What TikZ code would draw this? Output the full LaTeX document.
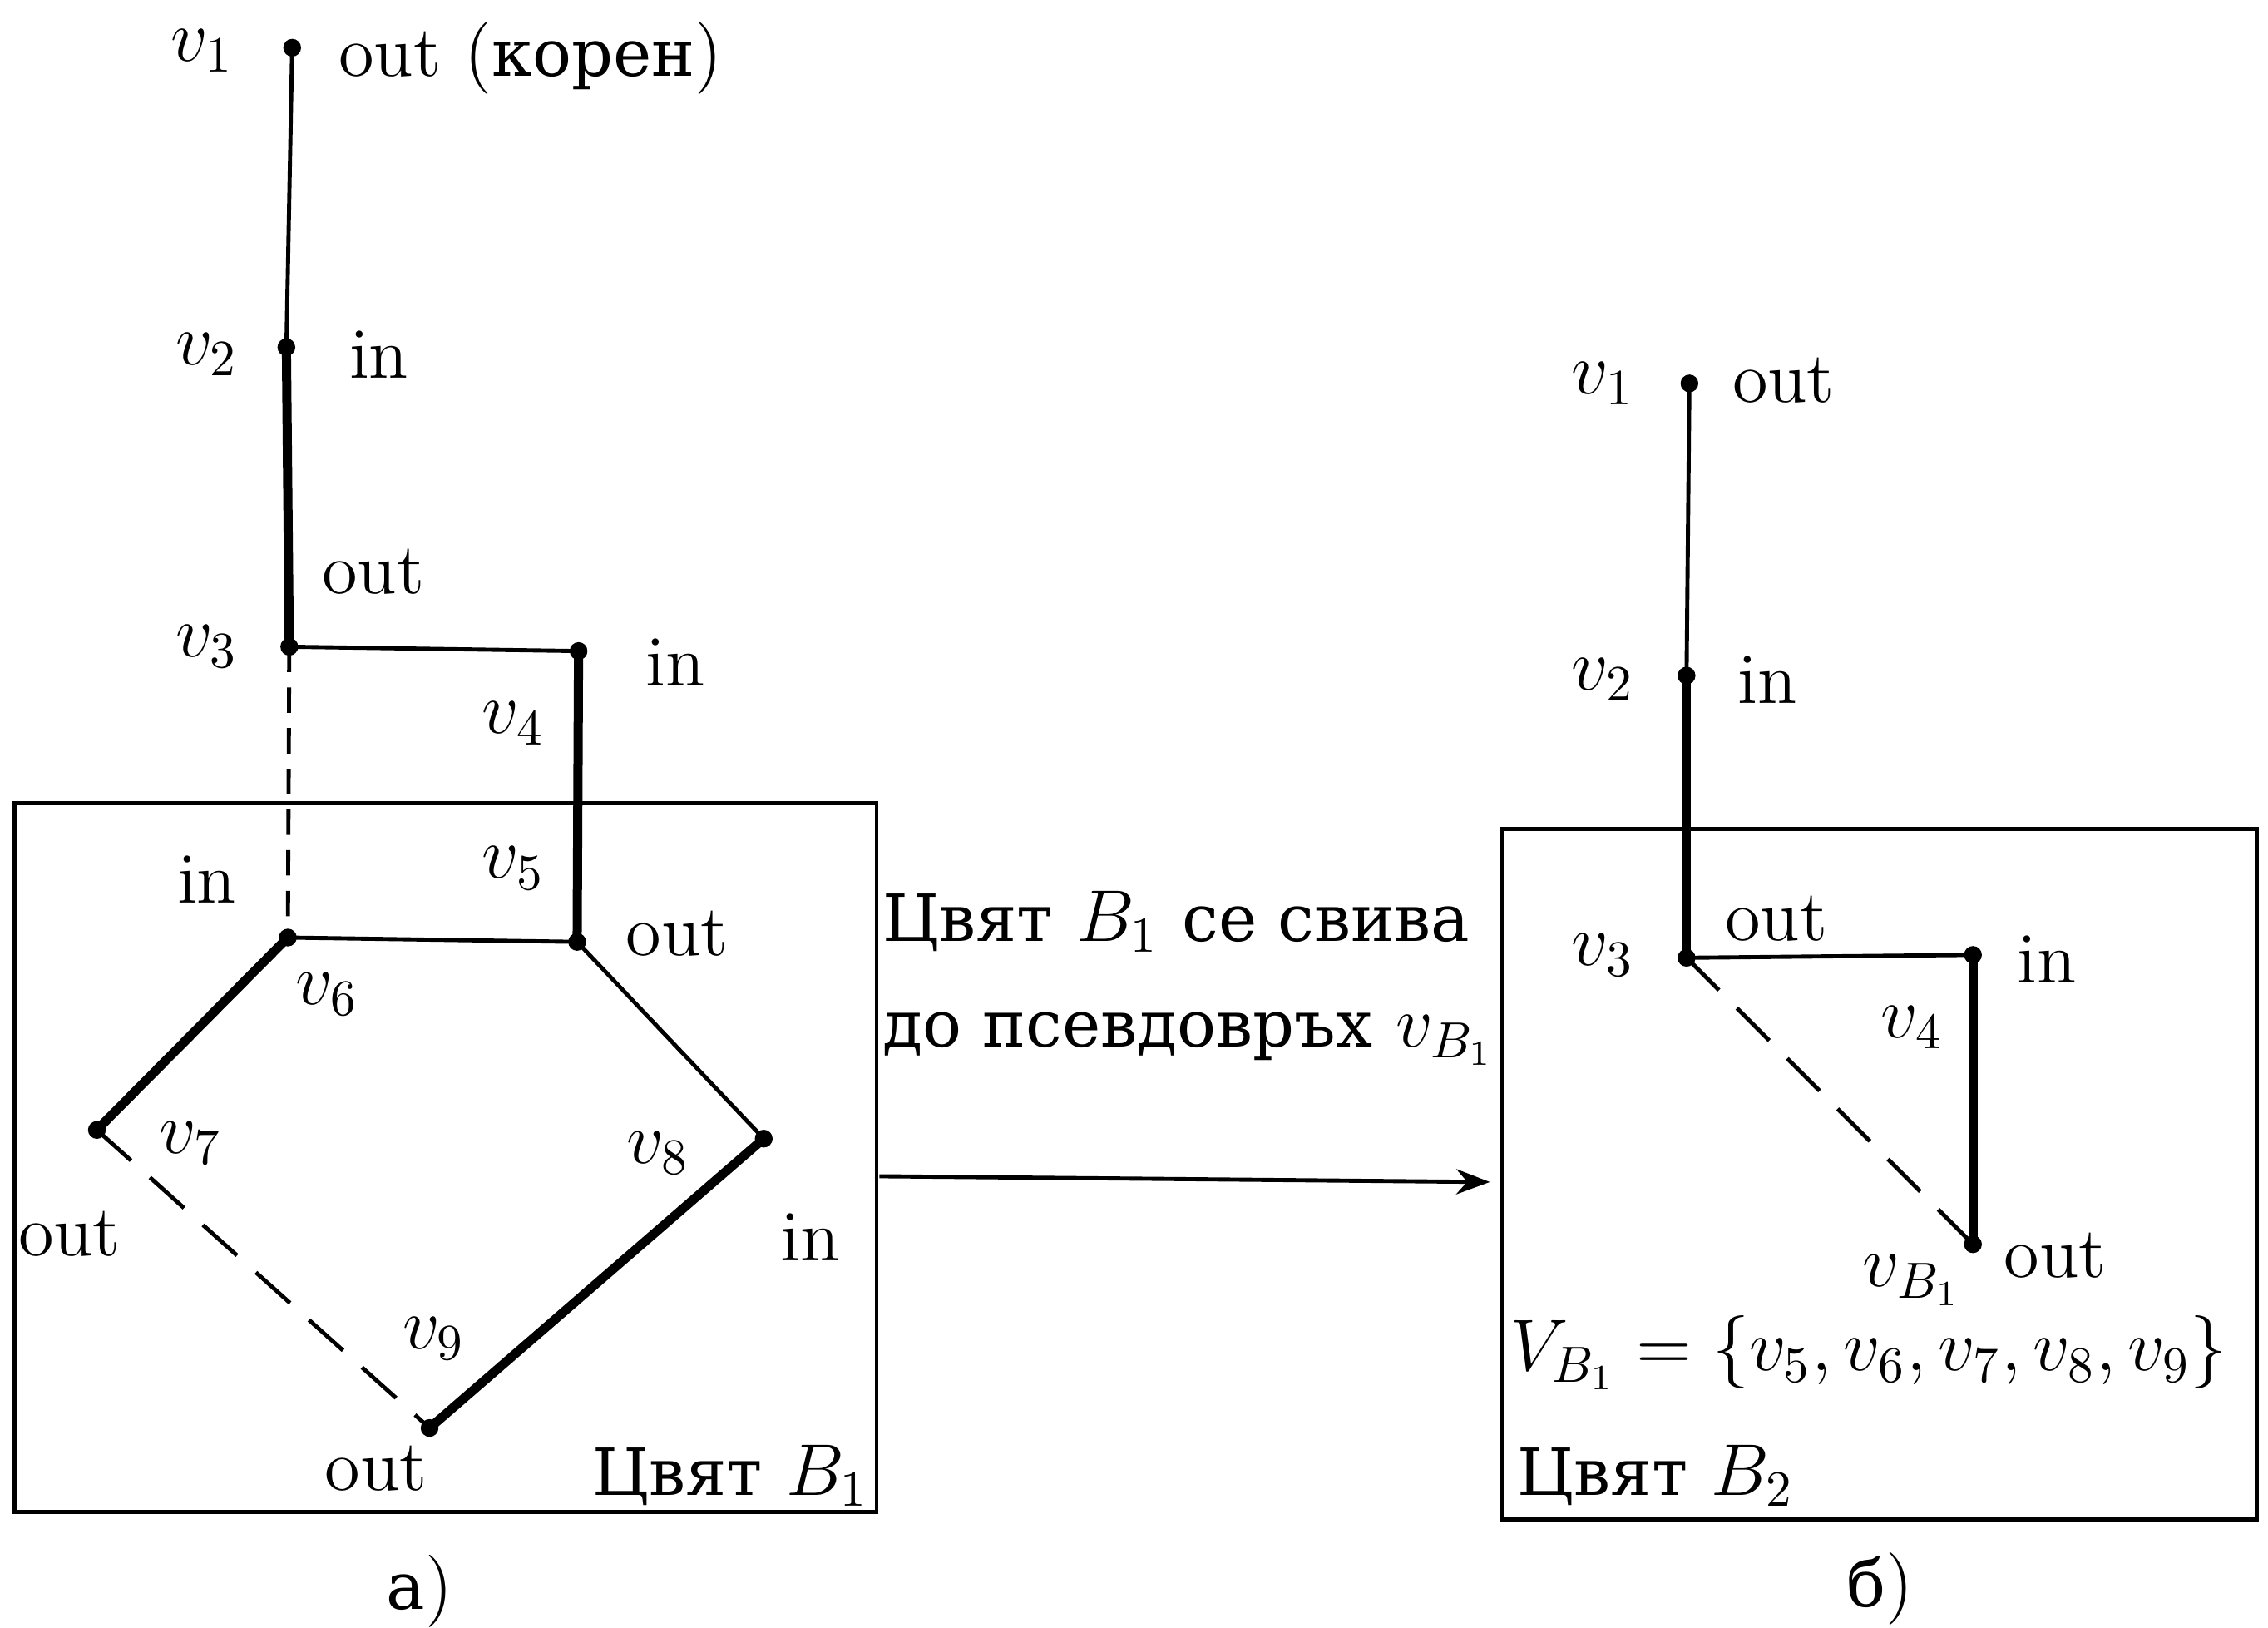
\documentclass[tikz,border=0pt]{standalone}
\usepackage{fontspec}
\newfontfamily\cyr[Scale=0.9]{DejaVu Serif}
\usetikzlibrary{arrows.meta,positioning}

\begin{document}
\begin{tikzpicture}[>=Stealth,font=\fontsize{14.2}{17}\selectfont]
\tikzstyle{vert}=[circle,fill,inner sep=0pt,minimum size=3.5pt]
\tikzstyle{edge}=[line width=0.8pt]
\tikzstyle{tree}=[line width=1.8pt]
\tikzstyle{back}=[line width=0.8pt,dash pattern=on 9pt off 5pt]
\tikzstyle{lbl}=[inner sep=1pt]
\useasboundingbox (0,0) rectangle (15.68,11.25);

% a) left graph
\node[vert] (a1) at (2.02,10.92) {};
\node[vert] (a2) at (1.98,8.85) {};
\node[vert] (a3) at (2.00,6.78) {};
\node[vert] (a4) at (4.00,6.75) {};
\node[vert] (a5) at (3.99,4.74) {};
\node[vert] (a6) at (1.99,4.77) {};
\node[vert] (a7) at (0.67,3.44) {};
\node[vert] (a8) at (5.28,3.38) {};
\node[vert] (a9) at (2.97,1.38) {};
\draw[edge] (0.10,0.80) rectangle (6.06,5.70);

\draw[edge] (a1.center) -- (a2.center);
\draw[tree] (a2.center) -- (a3.center);
\draw[edge] (a3.center) -- (a4.center);
\draw[tree] (a4.center) -- (a5.center);
\draw[back,dash pattern=on 5pt off 3pt] (a3.center) -- (a6.center);
\draw[edge] (a6.center) -- (a5.center);
\draw[tree] (a6.center) -- (a7.center);
\draw[back] (a7.center) -- (a9.center);
\draw[tree] (a9.center) -- (a8.center);
\draw[edge] (a8.center) -- (a5.center);

\node[lbl] (a1n) at (1.40,10.90) {$v_1$};
\node[lbl,anchor=west] (a1t) at (2.30,10.85) {out ({\cyr корен})};
\node[lbl] (a2n) at (1.43,8.80) {$v_2$};
\node[lbl] (a2t) at (2.62,8.80) {in};
\node[lbl] (a3t) at (2.58,7.30) {out};
\node[lbl] (a3n) at (1.43,6.78) {$v_3$};
\node[lbl] (a4t) at (4.67,6.67) {in};
\node[lbl] (a4n) at (3.55,6.25) {$v_4$};
\node[lbl] (a5n) at (3.55,5.25) {$v_5$};
\node[lbl] (a5t) at (4.68,4.80) {out};
\node[lbl] (a6t) at (1.43,5.17) {in};
\node[lbl] (a6n) at (2.26,4.38) {$v_6$};
\node[lbl] (a7n) at (1.32,3.35) {$v_7$};
\node[lbl] (a7t) at (0.48,2.72) {out};
\node[lbl] (a8n) at (4.55,3.28) {$v_8$};
\node[lbl] (a8t) at (5.60,2.70) {in};
\node[lbl] (a9n) at (3.00,2.00) {$v_9$};
\node[lbl] (a9t) at (2.60,1.10) {out};
\node[lbl] (acol) at (5.05,1.05) {{\cyr Цвят} $B_1$};
\node[lbl] (acap) at (2.90,0.25) {{\cyr а})};

% contraction step
\node[lbl,anchor=west] (step1) at (6.06,4.88) {{\cyr Цвят} $B_1$ {\cyr се свива}};
\node[lbl,anchor=west] (step2) at (6.06,4.07) {{\cyr до псевдовръх} $v_{B_1}$};
\coordinate (arrs) at (6.08,3.12);
\coordinate (arre) at (10.30,3.08);
\draw[edge,->] (arrs) -- (arre);

% b) contracted graph
\node[vert] (b1) at (11.68,8.60) {};
\node[vert] (b2) at (11.66,6.58) {};
\node[vert] (b3) at (11.66,4.63) {};
\node[vert] (b4) at (13.64,4.65) {};
\node[vert] (bB) at (13.64,2.65) {};
\draw[edge] (10.38,0.75) rectangle (15.60,5.52);

\draw[edge] (b1.center) -- (b2.center);
\draw[tree] (b2.center) -- (b3.center);
\draw[edge] (b3.center) -- (b4.center);
\draw[tree] (b4.center) -- (bB.center);
\draw[back] (b3.center) -- (bB.center);

\node[lbl] (b1n) at (11.08,8.60) {$v_1$};
\node[lbl] (b1t) at (12.33,8.62) {out};
\node[lbl] (b2n) at (11.08,6.55) {$v_2$};
\node[lbl] (b2t) at (12.22,6.55) {in};
\node[lbl] (b3n) at (11.08,4.65) {$v_3$};
\node[lbl] (b3t) at (12.28,4.90) {out};
\node[lbl] (b4t) at (14.15,4.62) {in};
\node[lbl] (b4n) at (13.22,4.15) {$v_4$};
\node[lbl] (bBt) at (14.21,2.57) {out};
\node[lbl] (bBn) at (13.22,2.40) {$v_{B_1}$};
\node[lbl,anchor=west] (bset) at (10.40,1.90) {$V_{B_1}=\{v_5,v_6,v_7,v_8,v_9\}$};
\node[lbl,anchor=west] (bcol) at (10.45,1.05) {{\cyr Цвят} $B_2$};
\node[lbl] (bcap) at (13.00,0.27) {{\cyr б})};
\end{tikzpicture}
\end{document}
